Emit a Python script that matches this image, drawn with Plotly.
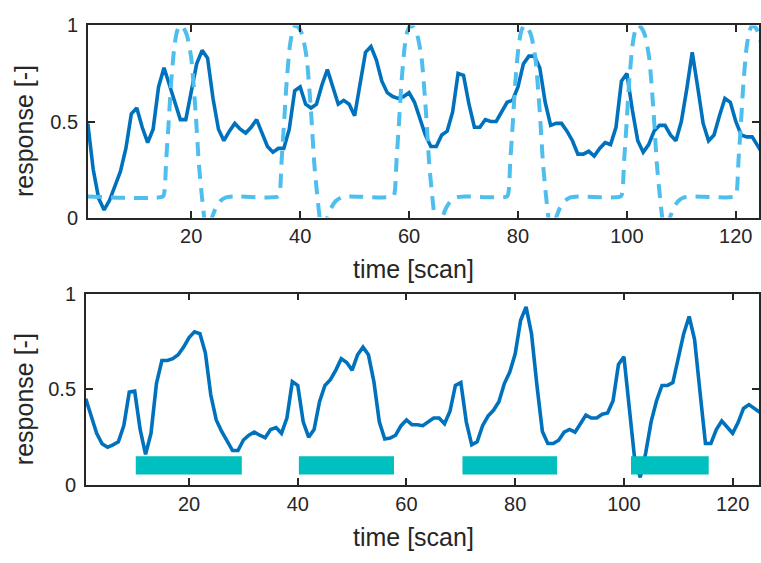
import plotly.graph_objects as go

# ---------------- data ----------------
scan = list(range(1, 126))

top_response = [0.49, 0.25, 0.10, 0.04, 0.09, 0.16, 0.24, 0.36, 0.54, 0.57,
                0.47, 0.39, 0.46, 0.68, 0.78, 0.69, 0.60, 0.51, 0.51, 0.66,
                0.80, 0.87, 0.83, 0.62, 0.46, 0.40, 0.45, 0.49, 0.46, 0.44,
                0.47, 0.51, 0.44, 0.37, 0.34, 0.36, 0.36, 0.46, 0.66, 0.68,
                0.59, 0.57, 0.59, 0.69, 0.77, 0.68, 0.59, 0.61, 0.59, 0.53,
                0.69, 0.86, 0.89, 0.82, 0.71, 0.65, 0.63, 0.62, 0.63, 0.65,
                0.60, 0.52, 0.43, 0.37, 0.37, 0.43, 0.45, 0.55, 0.75, 0.74,
                0.59, 0.47, 0.47, 0.51, 0.50, 0.50, 0.55, 0.60, 0.61, 0.68,
                0.80, 0.84, 0.84, 0.78, 0.60, 0.48, 0.49, 0.49, 0.45, 0.40,
                0.33, 0.33, 0.345, 0.32, 0.36, 0.39, 0.38, 0.47, 0.71, 0.75,
                0.56, 0.40, 0.34, 0.38, 0.45, 0.48, 0.48, 0.43, 0.40, 0.50,
                0.67, 0.86, 0.68, 0.49, 0.40, 0.43, 0.53, 0.62, 0.60, 0.50,
                0.43, 0.42, 0.42, 0.37, 0.33]

model_t = [1.0,
           14.8, 15.1, 15.4, 15.8, 16.3, 16.9, 17.4, 17.9, 18.5, 19.2, 20.0,
           20.8, 21.4, 22.0, 22.6, 23.2, 23.8, 24.5, 25.3, 26.4, 27.9,
           36.0, 36.3, 36.6, 37.0, 37.5, 38.1, 38.6, 39.1, 39.7, 40.4, 41.2,
           42.0, 42.6, 43.2, 43.8, 44.4, 45.0, 45.7, 46.5, 47.6, 49.1,
           57.1, 57.4, 57.7, 58.1, 58.6, 59.2, 59.7, 60.2, 60.8, 61.5, 62.3,
           63.1, 63.7, 64.3, 64.9, 65.5, 66.1, 66.8, 67.6, 68.7, 70.2,
           78.0, 78.3, 78.6, 79.0, 79.5, 80.1, 80.6, 81.1, 81.7, 82.4, 83.2,
           84.0, 84.6, 85.2, 85.8, 86.4, 87.0, 87.7, 88.5, 89.6, 91.1,
           98.9, 99.2, 99.5, 99.9, 100.4, 101.0, 101.5, 102.0, 102.6, 103.3, 104.1,
           104.9, 105.5, 106.1, 106.7, 107.3, 107.9, 108.6, 109.4, 110.5, 112.0,
           119.9, 120.2, 120.5, 120.9, 121.4, 122.0, 122.5, 123.0, 123.6, 124.3, 125.1]

model_v = [0.11,
           0.11, 0.14, 0.30, 0.47, 0.70, 0.89, 0.97, 1.00, 0.99, 0.95, 0.83,
           0.55, 0.28, 0.10, -0.03, -0.05, 0.00, 0.05, 0.085, 0.105, 0.11,
           0.11, 0.14, 0.30, 0.47, 0.70, 0.89, 0.97, 1.00, 0.99, 0.95, 0.83,
           0.55, 0.28, 0.10, -0.03, -0.05, 0.00, 0.05, 0.085, 0.105, 0.11,
           0.11, 0.14, 0.30, 0.47, 0.70, 0.89, 0.97, 1.00, 0.99, 0.95, 0.83,
           0.55, 0.28, 0.10, -0.03, -0.05, 0.00, 0.05, 0.085, 0.105, 0.11,
           0.11, 0.14, 0.30, 0.47, 0.70, 0.89, 0.97, 1.00, 0.99, 0.95, 0.83,
           0.55, 0.28, 0.10, -0.03, -0.05, 0.00, 0.05, 0.085, 0.105, 0.11,
           0.11, 0.14, 0.30, 0.47, 0.70, 0.89, 0.97, 1.00, 0.99, 0.95, 0.83,
           0.55, 0.28, 0.10, -0.03, -0.05, 0.00, 0.05, 0.085, 0.105, 0.11,
           0.11, 0.14, 0.30, 0.47, 0.70, 0.89, 0.97, 1.00, 0.99, 0.95, 0.83]

bottom_response = [0.45, 0.36, 0.27, 0.215, 0.197, 0.21, 0.226, 0.31, 0.485, 0.49,
                   0.29, 0.16, 0.27, 0.53, 0.65, 0.65, 0.66, 0.68, 0.72, 0.77,
                   0.80, 0.79, 0.69, 0.47, 0.34, 0.28, 0.23, 0.18, 0.18, 0.235,
                   0.26, 0.276, 0.26, 0.247, 0.29, 0.30, 0.27, 0.35, 0.54, 0.52,
                   0.33, 0.25, 0.29, 0.435, 0.52, 0.55, 0.60, 0.66, 0.64, 0.60,
                   0.68, 0.72, 0.68, 0.54, 0.33, 0.24, 0.245, 0.26, 0.31, 0.34,
                   0.315, 0.315, 0.31, 0.33, 0.35, 0.35, 0.32, 0.385, 0.52, 0.535,
                   0.33, 0.21, 0.226, 0.31, 0.36, 0.39, 0.435, 0.53, 0.59, 0.685,
                   0.86, 0.93, 0.79, 0.52, 0.28, 0.217, 0.217, 0.234, 0.276, 0.29,
                   0.276, 0.32, 0.365, 0.35, 0.35, 0.37, 0.376, 0.44, 0.63, 0.67,
                   0.40, 0.13, 0.04, 0.167, 0.33, 0.44, 0.52, 0.52, 0.535, 0.67,
                   0.79, 0.88, 0.76, 0.485, 0.217, 0.217, 0.29, 0.334, 0.30, 0.27,
                   0.326, 0.40, 0.42, 0.40, 0.38]

block_start = [10.2, 40.2, 70.3, 101.3]
block_end = [29.7, 57.7, 87.7, 115.6]
block_low = 0.055
block_high = 0.15

x_ticks = [20, 40, 60, 80, 100, 120]
y_ticks = [0, 0.5, 1]
y_ticktext = ["0", "0.5", "1"]

# ---------------- figure ----------------
W, H = 761, 563
BLUE = "#0072BD"
LIGHT = "#4DBEEE"
TEAL = "#00BFBF"
AX = "#262626"
FONT = "Liberation Sans, Arial, sans-serif"

fig = go.Figure()

fig.add_trace(go.Scatter(x=scan, y=top_response, mode="lines",
                         line=dict(color=BLUE, width=3.6),
                         xaxis="x", yaxis="y", showlegend=False))
fig.add_trace(go.Scatter(x=model_t, y=model_v, mode="lines",
                         line=dict(color=LIGHT, width=4, dash="14px,9px",
                                   shape="spline", smoothing=0.6),
                         xaxis="x", yaxis="y", showlegend=False))

fig.add_trace(go.Scatter(x=scan, y=bottom_response, mode="lines",
                         line=dict(color=BLUE, width=3.6),
                         xaxis="x2", yaxis="y2", showlegend=False))

bx, by = [], []
for s, e in zip(block_start, block_end):
    bx += [s, e, e, s, s, None]
    by += [block_low, block_low, block_high, block_high, block_low, None]
fig.add_trace(go.Scatter(x=bx, y=by, mode="lines", fill="toself",
                         fillcolor=TEAL, line=dict(color=TEAL, width=0),
                         xaxis="x2", yaxis="y2", showlegend=False))

common_x = dict(showgrid=False, zeroline=False, showline=True, linecolor=AX,
                linewidth=1.5, mirror="ticks", ticks="inside", ticklen=7,
                tickwidth=1.5, tickcolor=AX, tickvals=x_ticks,
                tickfont=dict(family=FONT, size=20, color=AX),
                ticklabelstandoff=0)
common_y = dict(showgrid=False, zeroline=False, showline=True, linecolor=AX,
                linewidth=1.5, mirror="ticks", ticks="inside", ticklen=7,
                tickwidth=1.5, tickcolor=AX, tickvals=y_ticks,
                ticktext=y_ticktext, range=[0, 1],
                tickfont=dict(family=FONT, size=20, color=AX),
                ticklabelstandoff=4)

fig.update_layout(
    width=W, height=H,
    margin=dict(l=0, r=0, t=0, b=0),
    paper_bgcolor="white", plot_bgcolor="white",
    showlegend=False,
    xaxis=dict(domain=[88 / W, 1], range=[1, 124.26], anchor="y", **common_x),
    yaxis=dict(domain=[1 - 215 / H, 1 - 15 / H], anchor="x", **common_y),
    xaxis2=dict(domain=[86 / W, 1], range=[1, 124.85], anchor="y2", **common_x),
    yaxis2=dict(domain=[1 - 493.3 / H, 1 - 294 / H], anchor="x2", **common_y),
)

for yc in (268, 547):
    fig.add_annotation(text="time [scan]", x=415 / W, y=1 - yc / H,
                       xref="paper", yref="paper", showarrow=False,
                       xanchor="center", yanchor="middle",
                       font=dict(family=FONT, size=25, color=AX))
for yc in (125, 404):
    fig.add_annotation(text="response [-]", x=24 / W, y=1 - yc / H,
                       xref="paper", yref="paper", showarrow=False,
                       textangle=-90, xanchor="center", yanchor="middle",
                       font=dict(family=FONT, size=25, color=AX))

fig.write_html("out.html")
